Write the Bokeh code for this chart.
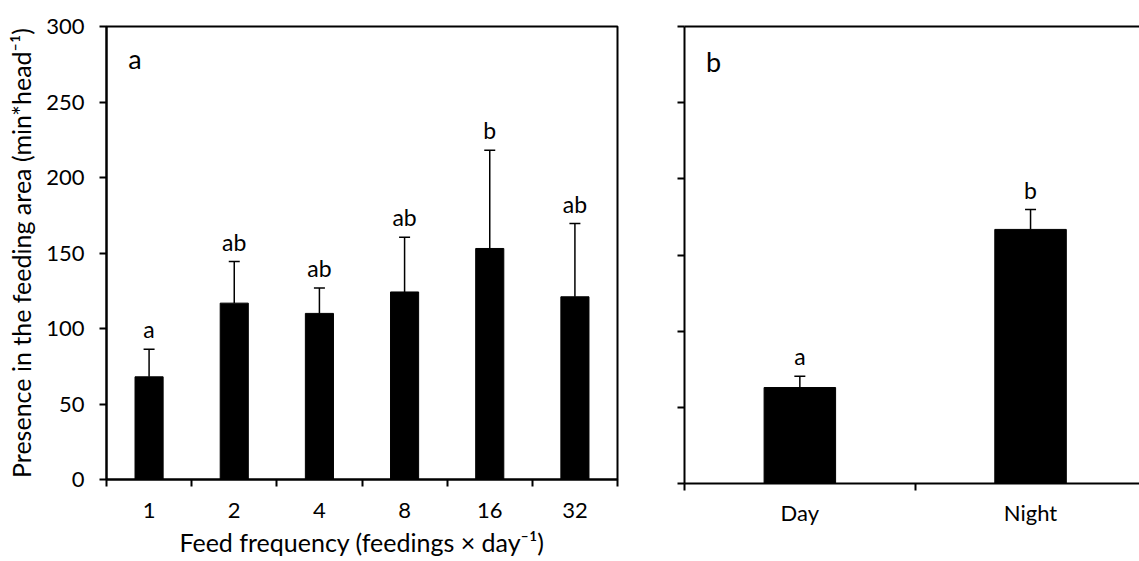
from bokeh.plotting import figure
from bokeh.models import Range1d, FixedTicker, Whisker, TeeHead, ColumnDataSource, LinearAxis, Label
from bokeh.layouts import row
from bokeh.core.properties import value
from bokeh.embed import file_html
from bokeh.resources import INLINE

# ---------------- data ----------------
freq_labels = ["1", "2", "4", "8", "16", "32"]
freq_means = [68.0, 116.8, 110.0, 124.2, 153.0, 121.0]
freq_se = [18.3, 27.5, 16.8, 36.2, 65.0, 48.5]
freq_letters = ["a", "ab", "ab", "ab", "b", "ab"]

period_labels = ["Day", "Night"]
period_means = [63.0, 166.8]
period_se = [7.4, 13.0]
period_letters = ["a", "b"]

y_ticks = [0, 50, 100, 150, 200, 250, 300]

FONT = "Lato"
TICK_FS = "22px"
TITLE_FS = "25px"


def style_common(p):
    p.xgrid.visible = False
    p.ygrid.visible = False
    p.background_fill_color = "white"
    p.border_fill_color = "white"
    for ax in (p.xaxis[0], p.yaxis[0]):
        ax.axis_line_color = "black"
        ax.axis_line_width = 2
        ax.major_label_text_font = FONT
        ax.major_label_text_color = "black"
        ax.axis_label_text_font = FONT
        ax.axis_label_text_font_style = "normal"
        ax.axis_label_text_color = "black"


def add_bars(p, labels, means, se, letters, bar_width):
    xs = [i + 0.5 for i in range(len(labels))]
    upper = [m + s for m, s in zip(means, se)]
    src = ColumnDataSource(dict(x=xs, top=means, upper=upper, letter=letters))
    p.vbar(x="x", top="top", width=bar_width, bottom=0, source=src,
           fill_color="black", line_color="black")
    w = Whisker(source=src, base="x", lower="top", upper="upper", dimension="height",
                line_color="black", line_width=1.5,
                upper_head=TeeHead(size=11, line_color="black", line_width=1.5),
                lower_head=None)
    p.add_layout(w)
    p.text(x="x", y="upper", text="letter", source=src, text_align="center",
           text_baseline="alphabetic", y_offset=-20, text_font=value(FONT),
           text_font_size="23px", text_color="black")


def style_cat_axis(ax, labels, standoff):
    k = len(labels)
    ax.ticker = FixedTicker(ticks=[i + 0.5 for i in range(k)], minor_ticks=list(range(k + 1)))
    ax.major_label_overrides = {i + 0.5: lab for i, lab in enumerate(labels)}
    ax.major_tick_line_color = None
    ax.minor_tick_line_color = "black"
    ax.minor_tick_line_width = 2
    ax.minor_tick_in = 0
    ax.minor_tick_out = 7
    ax.major_label_text_font_size = TICK_FS
    ax.major_label_standoff = standoff


# ---------------- panel a ----------------
n = len(freq_labels)
p1 = figure(frame_width=511, frame_height=453, min_border_left=106, min_border_right=37,
            min_border_top=26, min_border_bottom=82,
            x_range=Range1d(0, n), y_range=Range1d(0, 300),
            output_backend="svg", toolbar_location=None)
style_common(p1)
p1.outline_line_color = "black"
p1.outline_line_width = 2
add_bars(p1, freq_labels, freq_means, freq_se, freq_letters, 0.33)

xa = p1.xaxis[0]
style_cat_axis(xa, freq_labels, 16)
xa.axis_label = "Feed frequency (feedings \u00d7 day\u207b\u00b9)"
xa.axis_label_text_font_size = TITLE_FS
xa.axis_label_standoff = 6

ya = p1.yaxis[0]
ya.ticker = FixedTicker(ticks=y_ticks, minor_ticks=[])
ya.major_tick_line_color = "black"
ya.major_tick_line_width = 2
ya.major_tick_in = 0
ya.major_tick_out = 7
ya.minor_tick_line_color = None
ya.major_label_text_font_size = TICK_FS
ya.major_label_standoff = 15
ya.axis_label = "Presence in the feeding area (min*head\u207b\u00b9)"
ya.axis_label_text_font_size = TITLE_FS
ya.axis_label_standoff = 7

p1.add_layout(Label(x=0.334, y=279, text="a", text_font=FONT, text_font_size="27px",
                    text_align="center", text_baseline="middle", text_color="black"))

# ---------------- panel b ----------------
m = len(period_labels)
p2 = figure(frame_width=455, frame_height=457, min_border_left=30, min_border_right=0,
            min_border_top=25, min_border_bottom=79,
            x_range=Range1d(0, 455 / 230.7), y_range=Range1d(0, 300),
            output_backend="svg", toolbar_location=None)
style_common(p2)
p2.outline_line_color = None
add_bars(p2, period_labels, period_means, period_se, period_letters, 0.31)

xb = p2.xaxis[0]
style_cat_axis(xb, period_labels, 8)

# panel b: y ticks only (no labels) -> drawn as minor ticks
yb = p2.yaxis[0]
yb.ticker = FixedTicker(ticks=[], minor_ticks=y_ticks)
yb.major_tick_line_color = None
yb.minor_tick_line_color = "black"
yb.minor_tick_line_width = 2
yb.minor_tick_in = 0
yb.minor_tick_out = 7
yb.major_label_standoff = 0

top_axis = LinearAxis(ticker=FixedTicker(ticks=[], minor_ticks=[]), axis_line_color="black",
                      axis_line_width=2, major_tick_line_color=None, minor_tick_line_color=None)
p2.add_layout(top_axis, "above")

p2.add_layout(Label(x=0.126, y=277, text="b", text_font=FONT, text_font_size="27px",
                    text_align="center", text_baseline="middle", text_color="black"))

layout = row(p1, p2, spacing=0)
open("out.html", "w").write(file_html(layout, INLINE))
